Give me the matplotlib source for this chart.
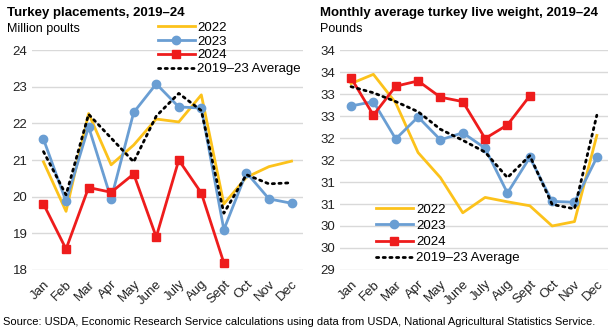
import matplotlib.pyplot as plt
import numpy as np

plt.rcParams["font.family"] = ["Liberation Sans", "DejaVu Sans"]

MONTHS = ["Jan", "Feb", "Mar", "Apr", "May", "June", "July", "Aug", "Sept", "Oct", "Nov", "Dec"]

# Turkey placements, million poults
place_2022 = [20.95, 19.6, 22.27, 20.87, 21.41, 22.12, 22.04, 22.78, 19.8, 20.53, 20.82, 20.97]
place_2023 = [21.57, 19.87, 21.91, 19.94, 22.3, 23.08, 22.45, 22.42, 19.1, 20.66, 19.94, 19.82]
place_2024 = [19.8, 18.57, 20.25, 20.12, 20.62, 18.9, 21.0, 20.1, 18.19]
place_avg = [21.23, 20.05, 22.25, 21.6, 20.95, 22.2, 22.82, 22.35, 19.55, 20.6, 20.35, 20.38]

# Monthly average live weight, pounds
weight_2022 = [33.24, 33.45, 32.8, 31.67, 31.1, 30.3, 30.65, 30.55, 30.46, 30.0, 30.1, 32.06]
weight_2023 = [32.73, 32.83, 31.98, 32.48, 31.96, 32.12, 31.77, 30.75, 31.56, 30.56, 30.54, 31.56]
weight_2024 = [33.37, 32.52, 33.18, 33.3, 32.93, 32.83, 31.99, 32.3, 32.96]
weight_avg = [33.17, 33.03, 32.83, 32.6, 32.2, 31.95, 31.68, 31.1, 31.6, 30.49, 30.39, 32.52]

left_ticks = [18, 19, 20, 21, 22, 23, 24]
right_ticks = [29, 29.5, 30, 30.5, 31, 31.5, 32, 32.5, 33, 33.5, 34]
right_tick_labels = ["29", "30", "30", "31", "31", "32", "32", "33", "33", "34", "34"]

YELLOW = "#FCC21B"
BLUE = "#6A9ED3"
RED = "#EE1C1C"
GRID = "#D9D9D9"


def draw_series(ax, s22, s23, s24, savg):
    x = np.arange(len(MONTHS))
    ax.plot(x, s22, color=YELLOW, lw=2.0, label="2022", zorder=3)
    ax.plot(x, s23, color=BLUE, lw=2.0, marker="o", ms=6, label="2023", zorder=4)
    ax.plot(x[:len(s24)], s24, color=RED, lw=2.0, marker="s", ms=6, label="2024", zorder=5)
    ax.plot(x, savg, color="black", lw=2.0, linestyle=(0, (0.8, 1.6)),
            dash_capstyle="round", label="2019\u201323 Average", zorder=6)
    ax.set_xlim(-0.5, len(MONTHS) - 0.5)
    ax.set_xticks(x)
    ax.set_xticklabels(MONTHS, rotation=45, ha="right", rotation_mode="anchor", fontsize=9)
    ax.tick_params(axis="both", length=0, labelsize=9.5, colors="#222222")
    ax.tick_params(axis="x", pad=6)
    ax.grid(axis="y", color=GRID, lw=1)
    ax.set_axisbelow(True)
    for s in ax.spines.values():
        s.set_visible(False)


fig = plt.figure(figsize=(6.08, 3.30), dpi=100)

ax1 = fig.add_axes([0.053, 0.182, 0.445, 0.666])
draw_series(ax1, place_2022, place_2023, place_2024, place_avg)
ax1.set_ylim(18, 24)
ax1.set_yticks(left_ticks)
ax1.legend(loc="upper left", bbox_to_anchor=(0.44, 1.16), frameon=False, fontsize=9.5,
           handlelength=2.8, handletextpad=0.2, labelspacing=0.12, borderpad=0)

ax2 = fig.add_axes([0.559, 0.182, 0.441, 0.666])
draw_series(ax2, weight_2022, weight_2023, weight_2024, weight_avg)
ax2.set_ylim(29, 34)
ax2.set_yticks(right_ticks)
ax2.set_yticklabels(right_tick_labels)
ax2.legend(loc="lower left", bbox_to_anchor=(0.11, -0.005), frameon=False, fontsize=9.5,
           handlelength=2.8, handletextpad=0.25, labelspacing=0.3, borderpad=0)

fig.text(0.012, 0.962, "Turkey placements, 2019\u201324", fontsize=9.5, fontweight="bold", va="center")
fig.text(0.012, 0.912, "Million poults", fontsize=9, va="center")
fig.text(0.526, 0.962, "Monthly average turkey live weight, 2019\u201324", fontsize=9.5,
         fontweight="bold", va="center")
fig.text(0.526, 0.912, "Pounds", fontsize=9, va="center")
fig.text(0.005, 0.025, "Source: USDA, Economic Research Service calculations using data from USDA, "
         "National Agricultural Statistics Service.", fontsize=8, va="center")

fig.savefig("out.png", dpi=100)
